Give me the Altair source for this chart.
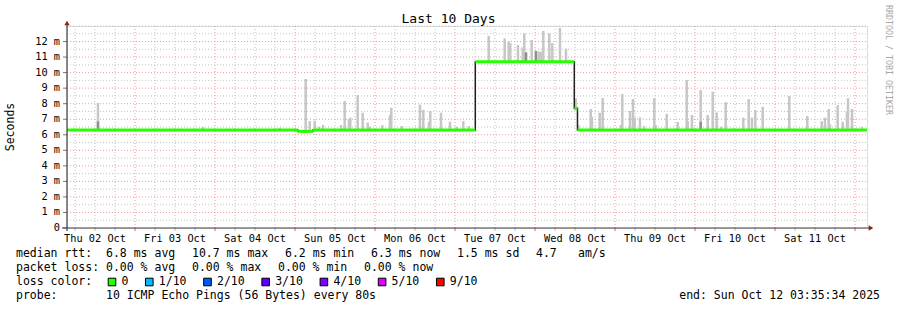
import altair as alt
import pandas as pd

# ---------------- data ----------------
start_time = "2025-10-02 03:35:34"
end_time = "2025-10-12 03:35:34"

# median RTT (ms) as steps: value holds from a time until the next one
median_times = ["2025-10-02 03:35:34", "2025-10-05 00:53", "2025-10-05 05:23",
                "2025-10-07 06:05", "2025-10-08 11:47", "2025-10-08 12:44",
                "2025-10-12 03:35:34"]
median_values = [6.3, 6.22, 6.3, 10.7, 7.7, 6.3, 6.3]

# smoke (ping spread) tops, ms
smoke_times = [
    "2025-10-02 12:53", "2025-10-03 20:23", "2025-10-04 19:29", "2025-10-05 03:12",
    "2025-10-05 04:24", "2025-10-05 05:54", "2025-10-05 07:11", "2025-10-05 08:23",
    "2025-10-05 13:47", "2025-10-05 14:54", "2025-10-05 16:11", "2025-10-05 16:35",
    "2025-10-05 18:48", "2025-10-05 20:18", "2025-10-05 21:48", "2025-10-05 22:29",
    "2025-10-06 02:11", "2025-10-06 04:29", "2025-10-06 04:53", "2025-10-06 08:00",
    "2025-10-06 13:29", "2025-10-06 14:29", "2025-10-06 16:11", "2025-10-06 16:35",
    "2025-10-06 19:47", "2025-10-06 22:29", "2025-10-07 00:30", "2025-10-07 02:29",
    "2025-10-07 04:11",
    "2025-10-07 10:06", "2025-10-07 14:54", "2025-10-07 16:06", "2025-10-07 16:35",
    "2025-10-07 18:53", "2025-10-07 20:18", "2025-10-07 20:47", "2025-10-07 21:17",
    "2025-10-07 23:00", "2025-10-08 00:17", "2025-10-08 01:11", "2025-10-08 01:47",
    "2025-10-08 02:29", "2025-10-08 04:17", "2025-10-08 05:11", "2025-10-08 07:29",
    "2025-10-08 09:17",
    "2025-10-08 12:12",
    "2025-10-08 12:59", "2025-10-08 16:42", "2025-10-08 17:05", "2025-10-08 19:24",
    "2025-10-08 20:18", "2025-10-09 01:47", "2025-10-09 02:11", "2025-10-09 04:29",
    "2025-10-09 05:23", "2025-10-09 05:54", "2025-10-09 07:29", "2025-10-09 08:41",
    "2025-10-09 11:47", "2025-10-09 12:12", "2025-10-09 15:30", "2025-10-09 18:48",
    "2025-10-09 21:30", "2025-10-09 21:48", "2025-10-09 23:05", "2025-10-10 01:42",
    "2025-10-10 03:48", "2025-10-10 05:18", "2025-10-10 06:30", "2025-10-10 07:53",
    "2025-10-10 09:12", "2025-10-10 11:23", "2025-10-10 14:29", "2025-10-10 16:06",
    "2025-10-10 17:05", "2025-10-10 18:05", "2025-10-10 20:18", "2025-10-11 04:17",
    "2025-10-11 09:41", "2025-10-11 14:00", "2025-10-11 14:59", "2025-10-11 16:06",
    "2025-10-11 16:29", "2025-10-11 18:48", "2025-10-11 20:18", "2025-10-11 21:35",
    "2025-10-11 21:53", "2025-10-11 23:05", "2025-10-12 00:30", "2025-10-12 02:05",
]
smoke_tops = [
    8.05, 6.5, 6.45, 9.59,
    6.88, 6.9, 6.52, 6.63,
    6.63, 8.17, 7.0, 7.1,
    8.55, 7.42, 6.78, 6.52,
    6.63, 7.27, 7.74, 6.56,
    7.94, 7.6, 6.84, 7.53,
    7.42, 6.84, 6.52, 6.88,
    6.56,
    12.36, 12.2, 12.0, 11.9,
    11.78, 11.63, 12.53, 11.3,
    12.1, 11.39, 11.35, 11.35,
    12.68, 12.53, 11.9, 12.87,
    11.54,
    8.35,
    6.63, 7.66, 7.16, 7.42,
    8.37, 6.63, 8.62, 7.53,
    8.3, 7.1, 7.12, 6.56,
    8.37, 6.63, 7.34, 6.82,
    9.52, 6.88, 7.27, 8.88,
    7.27, 8.77, 7.44, 6.52,
    8.1, 6.4, 7.1, 8.3,
    7.1, 7.6, 7.8, 8.49,
    7.2, 6.88, 7.1, 7.66,
    6.67, 7.91, 6.84, 7.5,
    8.35, 7.66, 6.4, 6.5,
]

# darker inner smoke
dark_times = ["2025-10-02 12:53", "2025-10-07 21:17", "2025-10-08 00:17", "2025-10-10 01:42"]
dark_tops = [6.85, 11.3, 11.39, 6.84]

# axis tick labels
x_label_times = ["2025-10-%02d 12:00" % d for d in range(2, 12)]
x_label_text = ["Thu 02 Oct", "Fri 03 Oct", "Sat 04 Oct", "Sun 05 Oct", "Mon 06 Oct",
                "Tue 07 Oct", "Wed 08 Oct", "Thu 09 Oct", "Fri 10 Oct", "Sat 11 Oct"]
y_label_values = list(range(0, 13))
y_label_text = ["0\u00a0\u00a0"] + ["%d m" % v for v in range(1, 13)]

# loss colour legend
loss_labels = ["0", "1/10", "2/10", "3/10", "4/10", "5/10", "9/10"]
loss_colors = ["#26ff00", "#00b8ff", "#0059ff", "#5e00ff", "#7e00ff", "#dd00ff", "#ff0000"]

rtt_items = ["6.8 ms avg", "10.7 ms max", "6.2 ms min", "6.3 ms now", "1.5 ms sd", "4.7", "am/s"]
loss_items = ["0.00 % avg", "0.00 % max", "0.00 % min", "0.00 % now"]
probe_text = "10 ICMP Echo Pings (56 Bytes) every 80s"
end_text = "end: Sun Oct 12 03:35:34 2025"


# ---------------- helpers ----------------
def to_ms(values):
    ts = pd.to_datetime(pd.Series(list(values)), format="ISO8601")
    return ((ts - pd.Timestamp("1970-01-01")) // pd.Timedelta(milliseconds=1)).astype("int64").tolist()


t0, t1 = to_ms([start_time, end_time])
med_ms = to_ms(median_times)

med_df = pd.DataFrame({"t": med_ms, "v": median_values})
seg_df = pd.DataFrame({"t": med_ms[:-1], "t2": med_ms[1:], "v": median_values[:-1]})

smoke_df = pd.DataFrame({"t": to_ms(smoke_times), "top": smoke_tops}).sort_values("t")
smoke_df = pd.merge_asof(smoke_df, med_df.rename(columns={"v": "base"}), on="t")
dark_df = pd.DataFrame({"t": to_ms(dark_times), "top": dark_tops}).sort_values("t")
dark_df = pd.merge_asof(dark_df, med_df.rename(columns={"v": "base"}), on="t")

# grid positions (6-hourly / half-millisecond steps)
grid_t = pd.date_range("2025-10-02 06:00", "2025-10-12 00:00", freq="6h")
xgrid_df = pd.DataFrame({"t": to_ms(grid_t.strftime("%Y-%m-%d %H:%M")), "major": grid_t.hour == 0})
ygrid_df = pd.DataFrame({"v": [i * 0.5 for i in range(1, 27)]})
ygrid_df["major"] = (ygrid_df["v"] % 1 == 0) & (ygrid_df["v"] < 13)

xlab_df = pd.DataFrame({"t": to_ms(x_label_times), "s": x_label_text})
ylab_df = pd.DataFrame({"v": y_label_values, "s": y_label_text})

MONO = "DejaVu Sans Mono"
RED_GRID = "#f29898"
GRAY_GRID = "#c4c4c4"
OX, OY = 67, 26  # plot origin in page pixels
W, H = 800, 202

xs = alt.Scale(type="utc", domain=[t0, t1], nice=False)
ys = alt.Scale(domain=[0, 13], nice=False, zero=False)


def X(f, **k):
    return alt.X(f, scale=xs, axis=None, **k)


def Y(f, **k):
    return alt.Y(f, scale=ys, axis=None, **k)


layers = []
# grids
for major, col in [(False, GRAY_GRID), (True, RED_GRID)]:
    layers.append(alt.Chart(xgrid_df[xgrid_df.major == major]).mark_rule(
        color=col, strokeWidth=1, strokeDash=[1, 2]).encode(
        x=X("t:T"), y=alt.value(0), y2=alt.value(H)))
    layers.append(alt.Chart(ygrid_df[ygrid_df.major == major]).mark_rule(
        color=col, strokeWidth=1, strokeDash=[1, 2]).encode(
        y=Y("v:Q"), x=alt.value(0), x2=alt.value(W)))
# x ticks
layers.append(alt.Chart(xgrid_df[~xgrid_df.major]).mark_rule(color="#bbbbbb").encode(
    x=X("t:T"), y=alt.value(H), y2=alt.value(H + 3)))
layers.append(alt.Chart(xgrid_df[xgrid_df.major]).mark_rule(color="#e06060").encode(
    x=X("t:T"), y=alt.value(H), y2=alt.value(H + 3)))
# y ticks
layers.append(alt.Chart(ylab_df).mark_rule(color="#777777").encode(
    y=Y("v:Q"), x=alt.value(-4), x2=alt.value(0)))

# data
layers.append(alt.Chart(smoke_df).mark_rule(color="#c6c6c6", strokeWidth=2.5, strokeCap="butt").encode(
    x=X("t:T"), y=Y("base:Q"), y2="top:Q"))
layers.append(alt.Chart(dark_df).mark_rule(color="#909090", strokeWidth=2.5, strokeCap="butt").encode(
    x=X("t:T"), y=Y("base:Q"), y2="top:Q"))
layers.append(alt.Chart(med_df).mark_line(interpolate="step-after", color="#202020", strokeWidth=1.5).encode(
    x=X("t:T"), y=Y("v:Q")))
layers.append(alt.Chart(seg_df).mark_rule(color=loss_colors[0], strokeWidth=3, strokeCap="butt").encode(
    x=X("t:T"), x2="t2:T", y=Y("v:Q")))

# tick labels
layers.append(alt.Chart(xlab_df).mark_text(font=MONO, fontSize=10.3, color="black", baseline="middle",
                                           align="center").encode(
    x=X("t:T"), y=alt.value(H + 11), text="s:N"))
layers.append(alt.Chart(ylab_df).mark_text(font=MONO, fontSize=10.3, color="black", baseline="middle",
                                           align="right").encode(
    y=Y("v:Q"), x=alt.value(-7), text="s:N"))

one = pd.DataFrame({"k": [0]})


def txt(s, px, py, size=11.5, align="left", color="black", angle=0):
    return alt.Chart(one).mark_text(
        text=s, align=align, baseline="middle", fontSize=size, font=MONO, color=color, angle=angle
    ).encode(x=alt.value(px - OX), y=alt.value(py - OY))


# axis lines + arrows
layers.append(alt.Chart(one).mark_rule(color="#404040", strokeWidth=1.2).encode(
    x=alt.value(-5), x2=alt.value(W + 2), y=alt.value(H)))
layers.append(alt.Chart(one).mark_rule(color="#404040", strokeWidth=1.2).encode(
    x=alt.value(0), y=alt.value(-3), y2=alt.value(H + 3)))
layers.append(alt.Chart(one).mark_point(shape="triangle-right", filled=True, color="#8e2020", size=28, opacity=1).encode(
    x=alt.value(W + 4), y=alt.value(H)))
layers.append(alt.Chart(one).mark_point(shape="triangle-up", filled=True, color="#8e2020", size=28, opacity=1).encode(
    x=alt.value(0), y=alt.value(-3)))

# titles
layers.append(txt("Last 10 Days", 448.5, 19, size=13, align="center"))
layers.append(txt("Seconds", 11, 127, align="center", angle=270))
layers.append(txt("RRDTOOL / TOBI OETIKER", 888, 5, size=8.3, color="#a8a8a8", angle=90))

# legend lines
L1, L2, L3, L4 = 254, 268, 282, 296
layers.append(txt("median rtt:", 16, L1))
for s, px in zip(rtt_items, [106, 192, 285, 371, 457, 536, 578]):
    layers.append(txt(s, px, L1))
layers.append(txt("packet loss:", 16, L2))
for s, px in zip(loss_items, [106, 192, 278, 364]):
    layers.append(txt(s, px, L2))
layers.append(txt("loss color:", 16, L3))
cx = 112.0
for lab, col in zip(loss_labels, loss_colors):
    layers.append(alt.Chart(one).mark_square(size=58, filled=True, color=col, stroke="black",
                                             strokeWidth=1, opacity=1).encode(
        x=alt.value(cx - OX), y=alt.value(L3 - OY)))
    layers.append(txt(lab, cx + 9.5, L3))
    cx += (len(lab) + 4.35) * 6.97
layers.append(txt("probe:", 16, L4))
layers.append(txt(probe_text, 106, L4))
layers.append(txt(end_text, 880, L4, align="right"))

chart = alt.layer(*layers).properties(
    width=W, height=H,
    padding={"left": OX, "top": OY, "right": 30, "bottom": 82},
    autosize=alt.AutoSizeParams(type="none"),
).configure_view(stroke=None).configure(background="white")

chart.save("out.html", embed_options={"renderer": "svg", "actions": False})
